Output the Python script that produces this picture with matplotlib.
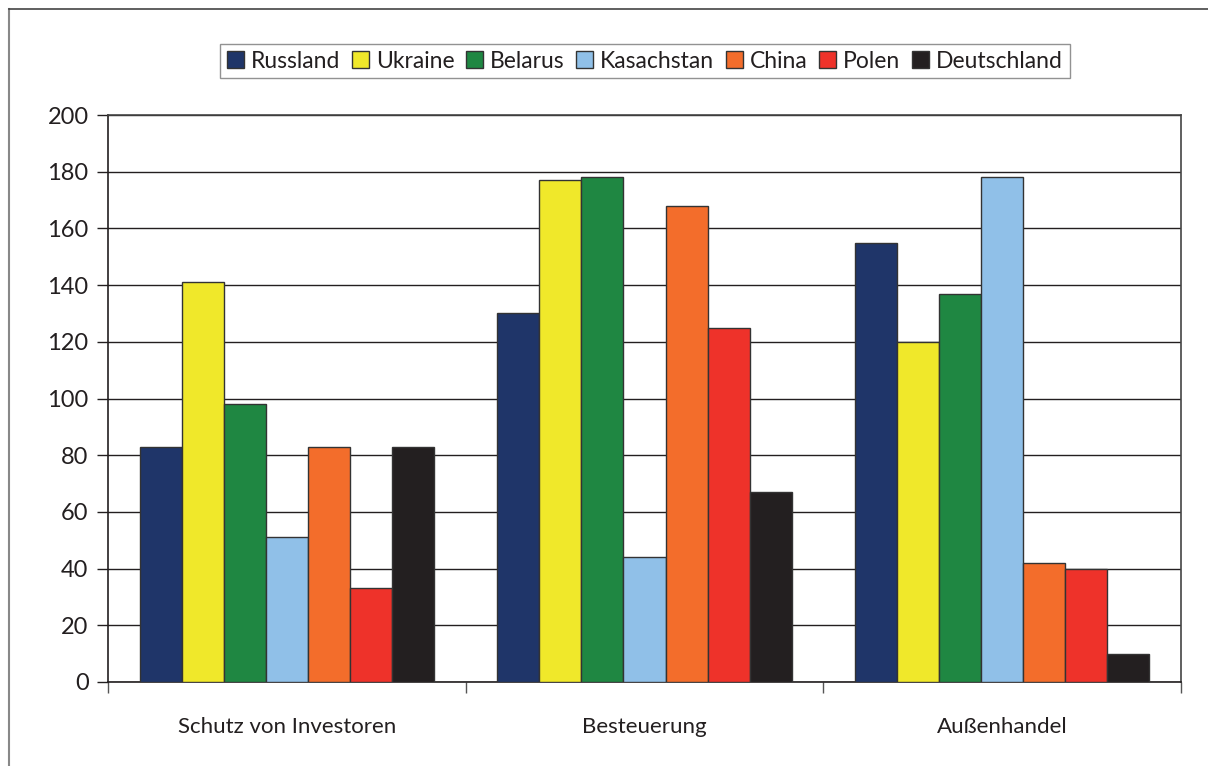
import matplotlib
matplotlib.use("Agg")
import matplotlib.pyplot as plt
import numpy as np
from matplotlib.patches import Rectangle
from matplotlib.lines import Line2D

categories = ["Schutz von Investoren", "Besteuerung", "Außenhandel"]
countries = ["Russland", "Ukraine", "Belarus", "Kasachstan", "China", "Polen", "Deutschland"]
russland = [83, 130, 155]
ukraine = [141, 177, 120]
belarus = [98, 178, 137]
kasachstan = [51, 44, 178]
china = [83, 168, 42]
polen = [33, 125, 40]
deutschland = [83, 67, 10]
series = [russland, ukraine, belarus, kasachstan, china, polen, deutschland]
colors = ["#1F3569", "#F0E82A", "#1F8742", "#90C0E8", "#F36D2B", "#EE322A", "#231F20"]
yticks = [0, 20, 40, 60, 80, 100, 120, 140, 160, 180, 200]

plt.rcParams['font.family'] = ['Lato', 'DejaVu Sans']
fig = plt.figure(figsize=(12.08, 7.66), dpi=100)
W, H = 1208, 766
ax = fig.add_axes([108 / W, 1 - 682 / H, (1181 - 108) / W, (682 - 115) / H])

n = len(countries)
bw = 0.822 / n
x = np.arange(len(categories))
for i, (vals, c, name) in enumerate(zip(series, colors, countries)):
    ax.bar(x - 0.411 + bw * (i + 0.5), vals, width=bw, color=c, edgecolor="#333333",
           linewidth=1.0, label=name, zorder=3)

ax.set_xlim(-0.5, len(categories) - 0.5)
ax.set_ylim(0, 200)
ax.set_yticks(yticks)
ax.set_yticklabels([str(v) for v in yticks], fontsize=17, color="#231F20")
ax.yaxis.grid(True, color="#231F20", linewidth=1.0, zorder=0)
ax.set_axisbelow(True)

ax.set_xticks(np.arange(len(categories) + 1) - 0.5)
ax.set_xticklabels([])
ax.set_xticks(x, minor=True)
ax.set_xticklabels(categories, minor=True, fontsize=16, color="#231F20")
ax.tick_params(axis="x", which="minor", length=0, pad=25)
ax.tick_params(axis="x", which="major", direction="out", length=8, width=1, color="#555555")
ax.tick_params(axis="y", direction="out", length=8, width=1, color="#231F20", pad=6)

for s in ["left", "bottom"]:
    ax.spines[s].set_color("#231F20")
    ax.spines[s].set_linewidth(1.2)
for s in ["top", "right"]:
    ax.spines[s].set_color("#444444")
    ax.spines[s].set_linewidth(1.2)

handles = [Rectangle((0, 0), 1, 1, facecolor=c, edgecolor="#333333", linewidth=1.0) for c in colors]
leg = fig.legend(handles, countries, loc="center", bbox_to_anchor=(645 / W, 1 - 61 / H),
                 ncol=n, fontsize=16.5, frameon=True, fancybox=False, edgecolor="#777777",
                 handlelength=0.75, handleheight=0.75, handletextpad=0.3, columnspacing=0.5,
                 borderpad=0.3, labelcolor="#231F20")
leg.get_frame().set_linewidth(1.0)

# outer frame (left and top edges visible)
fig.add_artist(Line2D([9 / W, 9 / W], [0, 1 - 9 / H], transform=fig.transFigure, color="#888888", linewidth=1.5))
fig.add_artist(Line2D([9 / W, 1], [1 - 9 / H, 1 - 9 / H], transform=fig.transFigure, color="#444444", linewidth=1.2))

fig.savefig("out.png", dpi=100)
